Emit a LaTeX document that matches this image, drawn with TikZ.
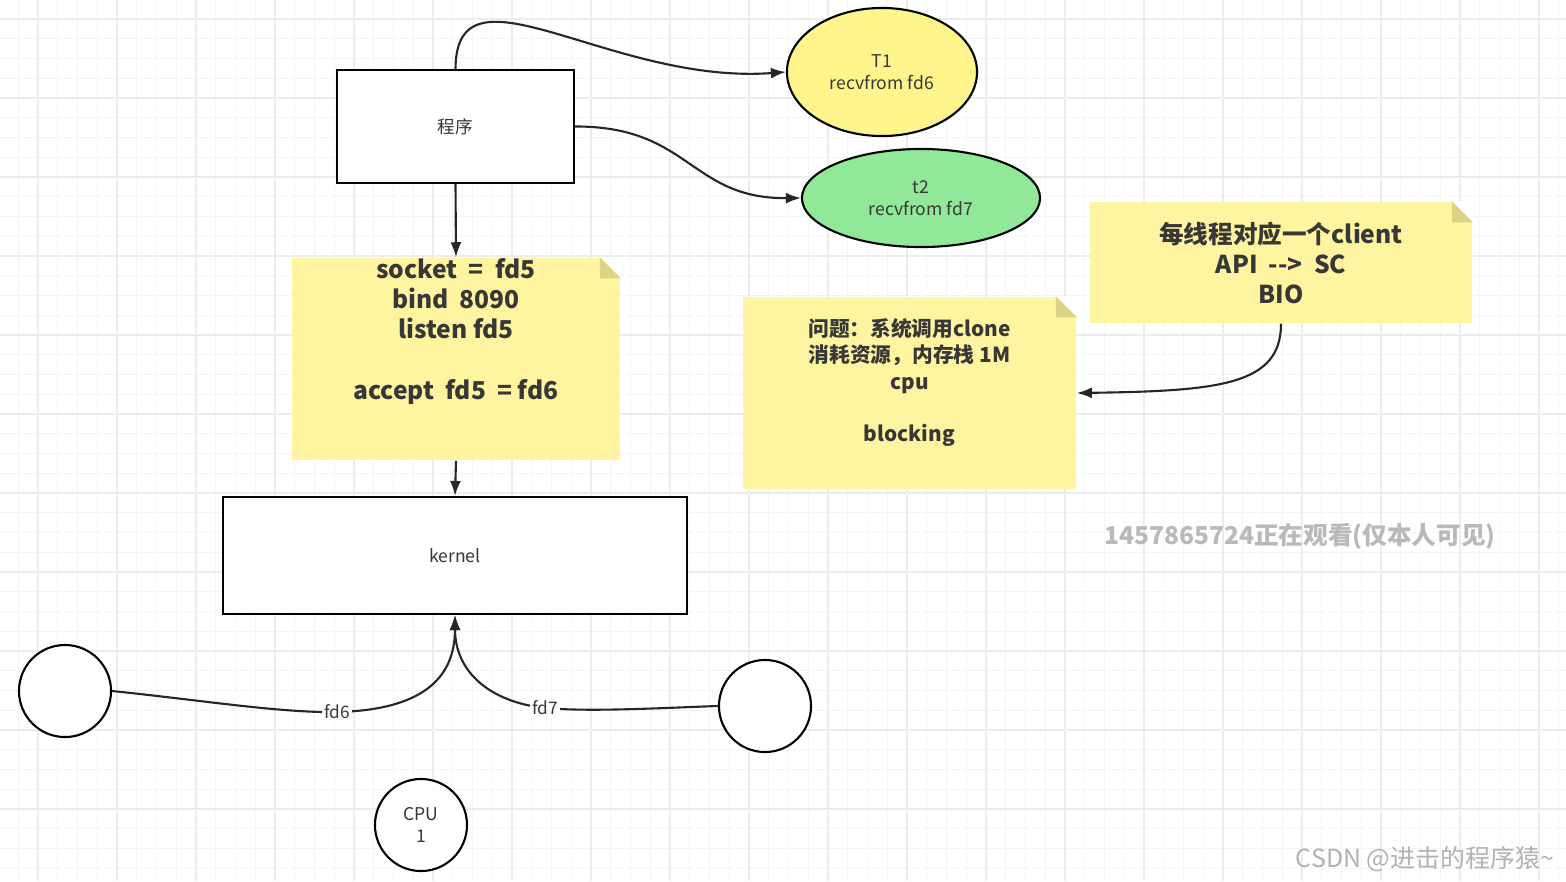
\documentclass[tikz,border=0pt]{standalone}
\usepackage{fontspec}
\setmainfont{Noto Sans CJK SC}
\usepackage{tikz}
\usetikzlibrary{shapes.geometric,arrows.meta}

\definecolor{notefill}{RGB}{255,245,160}
\definecolor{notefold}{RGB}{220,211,135}
\definecolor{tonefill}{RGB}{255,245,140}
\definecolor{ttwofill}{RGB}{145,232,152}
\definecolor{inktext}{RGB}{55,55,55}

\tikzset{
  gridline/.style={gray!8, line width=0.4pt},
  gridmajor/.style={gray!15, line width=0.5pt},
  box/.style={draw, line width=0.6pt, fill=white, inner sep=0pt, text=inktext,
    font=\fontsize{5}{6.3}\selectfont, align=center},
  thread/.style={box, ellipse},
  sock/.style={box, circle, minimum size=0.92cm},
  note/.style={fill=notefill, inner sep=0pt, text=inktext, align=center,
    font=\bfseries\fontsize{7}{8.54}\selectfont},
  arr/.style={line width=0.6pt, draw=black!85, -{Latex[length=1.5mm,width=1.1mm]}},
  lbl/.style={fill=white, inner sep=0.6pt, text=inktext, font=\fontsize{4.9}{5}\selectfont}
}

% folded corner of a sticky note
\newcommand\notefold[1]{%
  \fill[white] ([xshift=-0.21cm]#1.north east) -- (#1.north east)
    -- ([yshift=-0.21cm]#1.north east) -- cycle;
  \fill[notefold] ([xshift=-0.21cm]#1.north east)
    -- ([xshift=-0.21cm,yshift=-0.21cm]#1.north east)
    -- ([yshift=-0.21cm]#1.north east) -- cycle;}

\begin{document}
\begin{tikzpicture}[x=0.01cm, y=-0.01cm]
  \useasboundingbox (0,0) rectangle (1566,881);
  \fill[white] (0,0) rectangle (1566,881);

  % background grid
  \foreach \k in {0,...,80} \draw[gridline] ({-1.5+19.75*\k},0) -- ++(0,881);
  \foreach \k in {0,...,45} \draw[gridline] (0,{-0.75+19.75*\k}) -- ++(1566,0);
  \foreach \k in {0,...,19} \draw[gridmajor] ({38+79*\k},0) -- ++(0,881);
  \foreach \k in {0,...,11} \draw[gridmajor] (0,{19+79*\k}) -- ++(1566,0);

  % program and threads
  \node[box, minimum width=2.37cm, minimum height=1.13cm] (prog) at (455.5,126.5) {程序};
  \node[thread, fill=tonefill, minimum width=1.90cm, minimum height=1.28cm] (tone) at (882,72)
    {T1\\recvfrom fd6};
  \node[thread, fill=ttwofill, minimum width=2.38cm, minimum height=0.98cm] (ttwo) at (921,198)
    {t2\\recvfrom fd7};

  % system calls
  \node[note, minimum width=3.28cm, minimum height=2.02cm] (calls) at (456,359)
    {socket \ = \ fd5\\bind \ 8090\\listen fd5\\\mbox{}\\accept \ fd5 \ = fd6\\\mbox{}\\\mbox{}};
  \notefold{calls}

  \node[box, minimum width=4.64cm, minimum height=1.17cm] (kern) at (455,555.5) {kernel};

  % clients
  \node[sock] (cone) at (65,691) {};
  \node[sock] (ctwo) at (765,706) {};
  \node[sock] (cpu) at (421,825) {CPU\\1};

  % notes on the right
  \node[note, minimum width=3.82cm, minimum height=1.21cm] (perthr) at (1281,262.5)
    {每线程对应一个client\\API \ -{}-{}> \ SC\\BIO};
  \notefold{perthr}
  \node[note, minimum width=3.33cm, minimum height=1.92cm, font=\bfseries\fontsize{5.9}{7.4}\selectfont]
    (issue) at (909.5,393)
    {问题：系统调用clone\\消耗资源，内存栈 1M\\cpu\\\mbox{}\\blocking\\\mbox{}};
  \notefold{issue}

  % connectors
  \draw[arr] (prog.north) .. controls (456,-45) and (610,85) .. (tone.west);
  \draw[arr] (prog.east) .. controls (690,126) and (690,199) .. (ttwo.west);
  \draw[arr] (prog.south) -- (calls.north);
  \draw[arr] (calls.south) -- (kern.north);
  \draw[arr] (cone.east) .. controls (200,700) and (280,713) .. (337,712) node[lbl] {fd6}
    .. controls (420,710) and (455,680) .. (kern.south);
  \draw[arr] (ctwo.west) .. controls (660,708) and (590,712) .. (545,708) node[lbl] {fd7}
    .. controls (490,702) and (455,672) .. (kern.south);
  \draw[arr] (perthr.south) .. controls (1281,385) and (1220,391) .. (issue.east);

  % watermarks
  \node[text=gray!55, font=\bfseries\fontsize{7}{8}\selectfont] (viewer) at (1300,536)
    {1457865724正在观看(仅本人可见)};
  \node[text=gray!60, font=\fontsize{7.1}{8}\selectfont] (csdn) at (1425,859)
    {CSDN @进击的程序猿\textasciitilde};
\end{tikzpicture}
\end{document}
